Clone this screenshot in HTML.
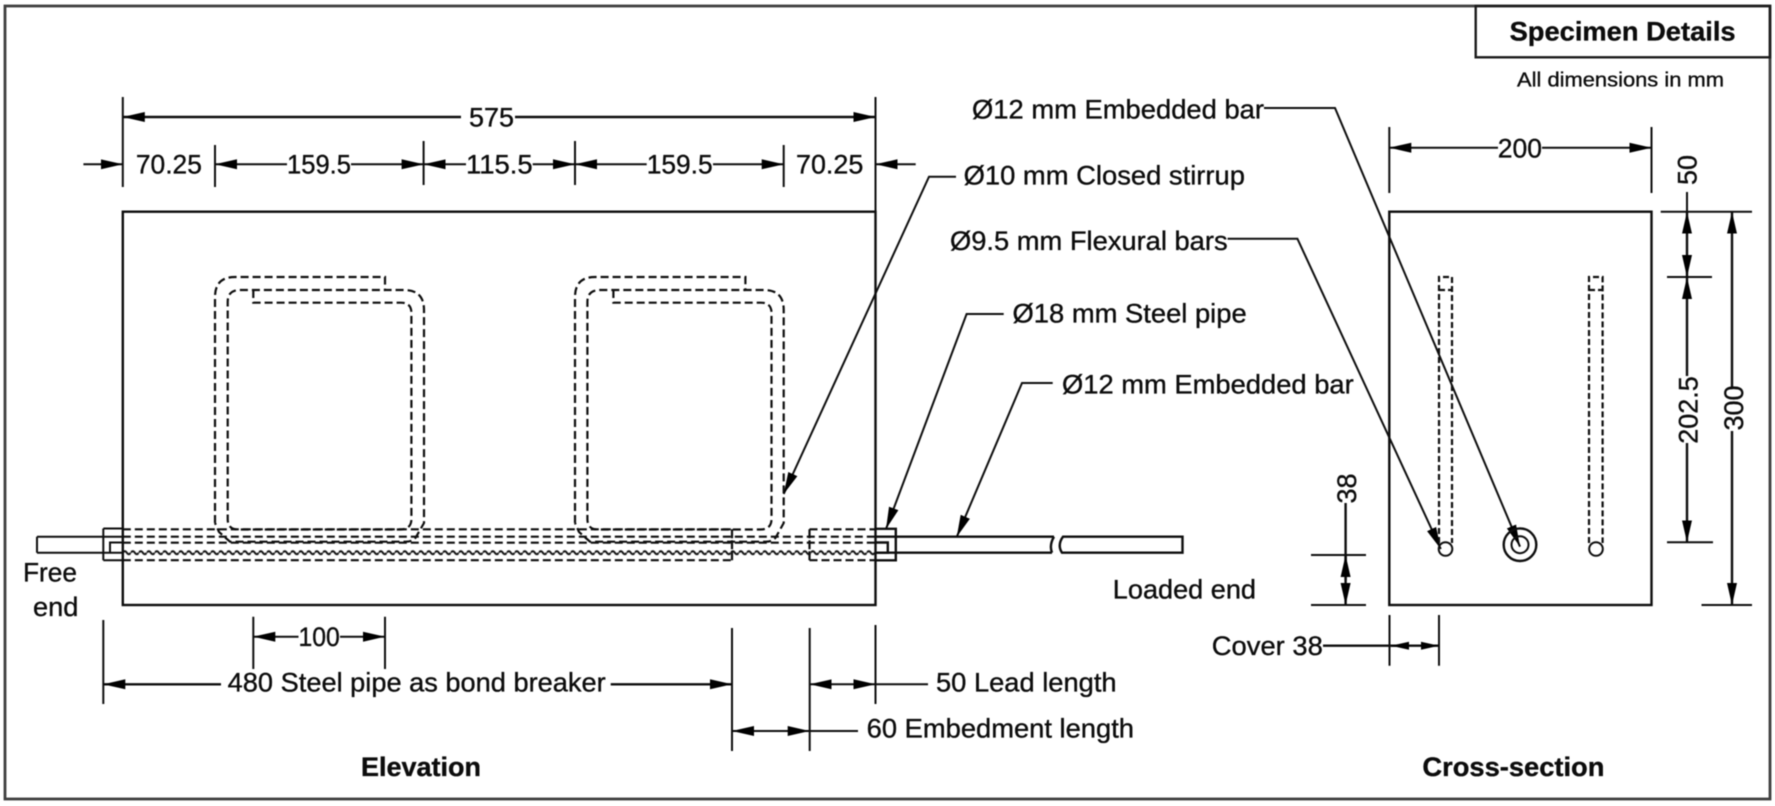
<!DOCTYPE html>
<html>
<head>
<meta charset="utf-8">
<style>
html,body{margin:0;padding:0;background:#fff;width:1775px;height:806px;overflow:hidden}
svg{display:block;filter:blur(0.45px)}
text{font-family:"Liberation Sans",sans-serif;font-size:27px;fill:#0c0c0c;stroke:#0c0c0c;stroke-width:0.35}
.b{font-weight:bold}
.l{fill:none;stroke:#0e0e0e;stroke-width:2.4}
.t{fill:none;stroke:#0e0e0e;stroke-width:2}
.d{fill:none;stroke:#0e0e0e;stroke-width:2.2;stroke-dasharray:8 4}
</style>
</head>
<body>
<svg width="1775" height="806" viewBox="0 0 1775 806" xmlns="http://www.w3.org/2000/svg">
<defs>
<marker id="a" markerUnits="userSpaceOnUse" markerWidth="22" markerHeight="11" viewBox="0 0 22 11" refX="22" refY="5.5" orient="auto-start-reverse"><polygon points="0,0.5 22,5.5 0,10.5" fill="#000"/></marker>
<marker id="s" markerUnits="userSpaceOnUse" markerWidth="18" markerHeight="9" viewBox="0 0 18 9" refX="18" refY="4.5" orient="auto-start-reverse"><polygon points="0,0.5 18,4.5 0,8.5" fill="#000"/></marker>
<pattern id="w" patternUnits="userSpaceOnUse" x="122.8" y="549.7" width="8" height="6"><path d="M0 3Q2 0 4 3T8 3" fill="none" stroke="#0e0e0e" stroke-width="2"/></pattern>
</defs>

<!-- Frame -->
<rect x="5" y="6" width="1765" height="793" fill="none" stroke="#3f3f3f" stroke-width="2.8"/>
<rect x="1475.7" y="6" width="294.3" height="51.3" fill="none" stroke="#1c1c1c" stroke-width="2.4"/>
<text class="b" x="1509.6" y="40.7" textLength="226" lengthAdjust="spacingAndGlyphs">Specimen Details</text>
<text x="1517" y="86.7" style="font-size:20.5px" textLength="207" lengthAdjust="spacingAndGlyphs">All dimensions in mm</text>

<!-- Elevation concrete -->
<rect x="122.8" y="211.7" width="752.7" height="393.3" fill="none" stroke="#0e0e0e" stroke-width="2.4"/>

<!-- Top dimensions -->
<path class="t" d="M122.8 97V187M875.5 97V187M215 145V187M423.6 141V185M575 141V185M783.7 145V187M875.5 187V215"/>
<path class="l" d="M461 117H122.8" marker-end="url(#a)"/>
<path class="l" d="M515 117H875.5" marker-end="url(#a)"/>
<text x="469" y="126.7" textLength="45" lengthAdjust="spacingAndGlyphs">575</text>

<path class="t" d="M83.4 164.3H122.8" marker-end="url(#a)"/>
<path class="t" d="M287 164.3H215" marker-end="url(#a)"/>
<path class="t" d="M351 164.3H423.6" marker-end="url(#a)"/>
<path class="t" d="M466 164.3H423.6" marker-end="url(#a)"/>
<path class="t" d="M532.7 164.3H575" marker-end="url(#a)"/>
<path class="t" d="M646.7 164.3H575" marker-end="url(#a)"/>
<path class="t" d="M713 164.3H783.7" marker-end="url(#a)"/>
<path class="t" d="M915.7 164.3H875.5" marker-end="url(#a)"/>
<text x="135.9" y="173.3" textLength="66" lengthAdjust="spacingAndGlyphs">70.25</text>
<text x="287" y="173.3" textLength="64" lengthAdjust="spacingAndGlyphs">159.5</text>
<text x="466" y="173.3" textLength="66.7" lengthAdjust="spacingAndGlyphs">115.5</text>
<text x="646.7" y="173.3" textLength="66" lengthAdjust="spacingAndGlyphs">159.5</text>
<text x="796" y="173.3" textLength="67.3" lengthAdjust="spacingAndGlyphs">70.25</text>

<!-- Stirrup 1 -->
<path class="d" d="M215 523V297Q215 277 235 277H385V290H404Q424 290 424 310V523L416 537Q413 541.7 406 541.7H230L219 532L215 523"/>
<path class="d" d="M253.3 290V302.7H401Q411.4 302.7 411.4 313V519Q411.4 529.5 400 529.5H238Q227.7 529.5 227.7 519V302Q227.7 290 240 290H385"/>
<!-- Stirrup 2 -->
<path class="d" d="M575 523V297Q575 277 595 277H745.4V290H764Q783.7 290 783.7 310V523L776 537Q773 541.7 766 541.7H590L579 532L575 523"/>
<path class="d" d="M613.4 290V302.7H761Q771.5 302.7 771.5 313V519Q771.5 529.5 760 529.5H598Q587.4 529.5 587.4 519V302Q587.4 290 600 290H745.4"/>

<!-- Bars in elevation -->
<path class="t" d="M37 536.7H122.8M37 552.7H122.8M37 536.7V552.7"/>
<path class="t" d="M103.3 528.5V560.3M103.3 528.5H122.8M103.3 560.3H122.8M110 552.7V542.5H122.8"/>
<path class="d" d="M122.8 529.3H732M122.8 536.7H875.5M122.8 542.7H875.5M122.8 560.2H732"/>
<rect x="122.8" y="549.7" width="752.7" height="6" fill="url(#w)"/>
<path class="d" style="stroke-dasharray:9 2" d="M732 529.3V560.2M809.5 529.3V560.2"/>
<path class="d" d="M809.5 529.3H875.5M809.5 560.2H875.5"/>
<path class="l" d="M875.5 528.8H895.8V560.3H875.5M875.5 542.5H887.8V552.7H875.5"/>
<path class="l" d="M875.5 536.7H1054M875.5 552.7H1052M1054 536.7Q1049 545 1052 552.7"/>
<path class="l" d="M1063 536.7Q1057 545 1062 552.7H1182.5V536.7Z"/>

<!-- Labels right of elevation -->
<text x="972" y="118.3" textLength="292" lengthAdjust="spacingAndGlyphs">Ø12 mm Embedded bar</text>
<text x="963.6" y="184.3" textLength="281.4" lengthAdjust="spacingAndGlyphs">Ø10 mm Closed stirrup</text>
<text x="950" y="250" textLength="277.6" lengthAdjust="spacingAndGlyphs">Ø9.5 mm Flexural bars</text>
<text x="1012.5" y="322.7" textLength="234.2" lengthAdjust="spacingAndGlyphs">Ø18 mm Steel pipe</text>
<text x="1062" y="393.3" textLength="291.7" lengthAdjust="spacingAndGlyphs">Ø12 mm Embedded bar</text>
<text x="1112.8" y="598.3" textLength="143.2" lengthAdjust="spacingAndGlyphs">Loaded end</text>
<text x="23" y="581.7" textLength="54" lengthAdjust="spacingAndGlyphs">Free</text>
<text x="33" y="616" textLength="45.4" lengthAdjust="spacingAndGlyphs">end</text>

<!-- Leaders -->
<path class="t" d="M956 176.7H929L783.7 494" marker-end="url(#a)"/>
<path class="t" d="M1003.7 314H966.6L886 529" marker-end="url(#a)"/>
<path class="t" d="M1052.7 383H1022L956.7 537" marker-end="url(#a)"/>
<path class="t" d="M1264 108H1335L1520 546.7" marker-end="url(#a)"/>
<path class="t" d="M1227.6 238.7H1297.4L1440.8 549" marker-end="url(#a)"/>

<!-- Lower dimensions -->
<path class="t" d="M253.3 616.7V669M385 616.7V669M103.3 620V704M732 628V751M809.7 628V751M875.5 625V704"/>
<path class="t" d="M298.5 636.7H253.3" marker-end="url(#a)"/>
<path class="t" d="M340 636.7H385" marker-end="url(#a)"/>
<text x="298.5" y="646" textLength="41.3" lengthAdjust="spacingAndGlyphs">100</text>
<path class="l" d="M221 684.3H103.3" marker-end="url(#a)"/>
<path class="l" d="M610.7 684.3H732" marker-end="url(#a)"/>
<text x="227.7" y="691.7" textLength="378" lengthAdjust="spacingAndGlyphs">480 Steel pipe as bond breaker</text>
<path class="t" d="M845 684.3H809.7" marker-end="url(#a)"/>
<path class="t" d="M845 684.3H875.5" marker-end="url(#a)"/>
<path class="t" d="M875.5 684.3H928"/>
<text x="936" y="691.7" textLength="180.6" lengthAdjust="spacingAndGlyphs">50 Lead length</text>
<path class="t" d="M770 731H732" marker-end="url(#a)"/>
<path class="t" d="M770 731H809.7" marker-end="url(#a)"/>
<path class="t" d="M809.7 731H858"/>
<text x="866.7" y="737.7" textLength="267.3" lengthAdjust="spacingAndGlyphs">60 Embedment length</text>
<text class="b" x="361" y="776" textLength="120" lengthAdjust="spacingAndGlyphs">Elevation</text>

<!-- Cross-section -->
<rect x="1389.3" y="211.7" width="262.2" height="393.3" fill="none" stroke="#0e0e0e" stroke-width="2.4"/>
<path class="t" d="M1389.3 127V193M1651.5 127V193"/>
<path class="t" d="M1498 147.7H1389.3" marker-end="url(#a)"/>
<path class="t" d="M1542 147.7H1651.5" marker-end="url(#a)"/>
<text x="1497.8" y="157.7" textLength="44.2" lengthAdjust="spacingAndGlyphs">200</text>

<path class="d" style="stroke-dasharray:6 3" d="M1439 543V277H1452V543M1439 290H1452"/>
<path class="d" style="stroke-dasharray:6 3" d="M1589 543V277H1602.6V543M1589 290H1602.6"/>
<circle cx="1445.5" cy="549" r="6.8" class="t"/>
<circle cx="1596" cy="549" r="6.8" class="t"/>
<circle cx="1520" cy="544.7" r="16.3" class="l"/>
<circle cx="1520" cy="544.7" r="8.5" class="t"/>

<!-- Right vertical dims -->
<path class="t" d="M1660.7 211.7H1752M1667 277H1712M1667 542.3H1713M1701.5 605H1752"/>
<path class="t" d="M1687 192V211.7"/>
<path class="l" d="M1687 245V211.7" marker-end="url(#a)"/>
<path class="l" d="M1687 245V277" marker-end="url(#a)"/>
<path class="l" d="M1687 376V277" marker-end="url(#a)"/>
<path class="l" d="M1687 443V542.3" marker-end="url(#a)"/>
<path class="l" d="M1732 387V211.7" marker-end="url(#a)"/>
<path class="l" d="M1732 431V605" marker-end="url(#a)"/>
<text transform="translate(1696.5,170) rotate(-90)" text-anchor="middle">50</text>
<text transform="translate(1697.4,410) rotate(-90)" text-anchor="middle">202.5</text>
<text transform="translate(1743,408) rotate(-90)" text-anchor="middle">300</text>

<!-- Cover dims -->
<path class="t" d="M1311 555H1366M1311 605H1366"/>
<path class="l" d="M1345.6 503V580"/>
<path class="l" d="M1345.6 580V555" marker-end="url(#a)"/>
<path class="l" d="M1345.6 580V605" marker-end="url(#a)"/>
<text transform="translate(1356,488.5) rotate(-90)" text-anchor="middle">38</text>
<path class="t" d="M1389.5 615V665.7M1439 615V665.7"/>
<path class="l" d="M1323 645.7H1439" marker-end="url(#s)"/>
<path class="l" d="M1409 645.7H1391" marker-end="url(#s)"/>
<text x="1211.8" y="655" textLength="111" lengthAdjust="spacingAndGlyphs">Cover 38</text>
<text class="b" x="1422.4" y="776" textLength="182" lengthAdjust="spacingAndGlyphs">Cross-section</text>
</svg>
</body>
</html>
